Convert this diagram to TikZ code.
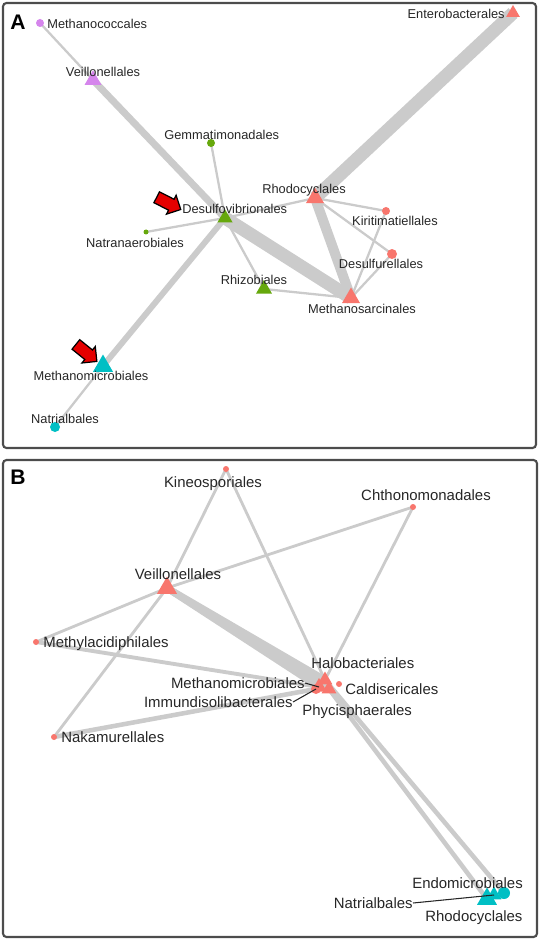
\documentclass[tikz,border=0pt]{standalone}
\usepackage{fontspec}
\setmainfont{Liberation Sans}
\usetikzlibrary{shapes.geometric,shapes.arrows}
\definecolor{vio}{HTML}{D585EC}
\definecolor{grn}{HTML}{66A80C}
\definecolor{cya}{HTML}{00BFC4}
\definecolor{sal}{HTML}{F8766D}
\definecolor{edg}{HTML}{CBCBCB}
\pgfdeclarelayer{bg}
\pgfsetlayers{bg,main}
\tikzset{
    tri/.style={regular polygon, regular polygon sides=3, inner sep=0pt, minimum size=#1},
    tri/.default=0.38cm,
    dot/.style={circle, inner sep=0pt, minimum size=#1},
    dot/.default=0.14cm,
    lab a/.style={inner sep=0pt, text=black!85, font=\fontsize{7.3}{8}\selectfont, text height=1.5ex, text depth=0.3ex},
    lab b/.style={inner sep=0pt, text=black!85, font=\fontsize{8.5}{10}\selectfont, text height=1.5ex, text depth=0.3ex},
    link/.style={draw=edg, line width=#1},
    link/.default=1.3pt,
    leader/.style={draw=black!85, line width=0.6pt},
    frame/.style={draw=black!70, line width=1.2pt, rounded corners=2pt},
    panel/.style={inner sep=0pt, font=\fontsize{12}{14}\selectfont\bfseries},
    pointer/.style={single arrow, draw=black, fill=red!90!black, line width=0.7pt, inner sep=0.11cm, minimum height=0.54cm, single arrow head extend=0.09cm},
}
\begin{document}
\begin{tikzpicture}[x=0.02cm, y=-0.02cm]
        \useasboundingbox (0, 0) rectangle (540, 942);
        %draw panel frames
        \draw[frame] (3, 3) rectangle (536, 448);
        \draw[frame] (3, 460) rectangle (537, 937);
        %label panels
        \node[panel] (pA) at (18, 22) {A};
        \node[panel] (pB) at (18, 477) {B};
        %panel A: nodes
        \node[dot=0.16cm, fill=vio] (mcocA) at (40, 23) {};
        \node[tri=0.39cm, fill=vio] (veilA) at (93, 80) {};
        \node[dot=0.16cm, fill=grn] (gemmA) at (211, 143) {};
        \node[tri=0.35cm, fill=grn] (desvA) at (225, 218) {};
        \node[dot=0.1cm, fill=grn] (natrnA) at (146, 232) {};
        \node[tri=0.37cm, fill=grn] (rhizA) at (264, 289) {};
        \node[tri=0.32cm, fill=sal] (entA) at (513, 13) {};
        \node[tri=0.42cm, fill=sal] (rhodA) at (315, 198) {};
        \node[dot=0.16cm, fill=sal] (kiriA) at (386, 211) {};
        \node[dot=0.2cm, fill=sal] (dsurA) at (392, 254) {};
        \node[tri=0.42cm, fill=sal] (msarA) at (351, 298) {};
        \node[tri=0.46cm, fill=cya] (mmicA) at (103, 366) {};
        \node[dot=0.2cm, fill=cya] (ntrlA) at (55, 427) {};
        %panel A: labels
        \node[lab a, anchor=west] (mcocA-t) at (47, 23) {Methanococcales};
        \node[lab a] (veilA-t) at (103, 71) {Veillonellales};
        \node[lab a, anchor=west] (gemmA-t) at (164, 134) {Gemmatimonadales};
        \node[lab a, anchor=west] (desvA-t) at (182, 208) {Desulfovibrionales};
        \node[lab a] (natrnA-t) at (135, 242) {Natranaerobiales};
        \node[lab a] (rhizA-t) at (254, 279) {Rhizobiales};
        \node[lab a, anchor=east] (entA-t) at (505, 13) {Enterobacterales};
        \node[lab a] (rhodA-t) at (304, 188) {Rhodocyclales};
        \node[lab a] (kiriA-t) at (395, 220) {Kiritimatiellales};
        \node[lab a] (dsurA-t) at (381, 263) {Desulfurellales};
        \node[lab a] (msarA-t) at (362, 308) {Methanosarcinales};
        \node[lab a] (mmicA-t) at (91, 375) {Methanomicrobiales};
        \node[lab a] (ntrlA-t) at (65, 418) {Natrialbales};
        %red pointers
        \node[pointer, rotate=-27] (ptr1) at (166, 202) {};
        \node[pointer, rotate=-39] (ptr2) at (84, 351) {};
        %panel A: edges
        \begin{pgfonlayer}{bg}
            \draw[link] (mcocA.center) -- (veilA.center);
            \draw[link=4pt] (veilA.center) -- (desvA.center);
            \draw[link] (gemmA.center) -- (desvA.center);
            \draw[link] (natrnA.center) -- (desvA.center);
            \draw[link=3.4pt] (desvA.center) -- (mmicA.center);
            \draw[link] (mmicA.center) -- (ntrlA.center);
            \draw[link] (desvA.center) -- (rhizA.center);
            \draw[link] (desvA.center) -- (rhodA.center);
            \draw[link=7.5pt] (desvA.center) -- (msarA.center);
            \draw[link] (rhizA.center) -- (msarA.center);
            \draw[link=7.5pt] (rhodA.center) -- (entA.center);
            \draw[link=5.7pt] (rhodA.center) -- (msarA.center);
            \draw[link] (rhodA.center) -- (kiriA.center);
            \draw[link] (rhodA.center) -- (dsurA.center);
            \draw[link] (kiriA.center) -- (msarA.center);
            \draw[link] (dsurA.center) -- (msarA.center);
        \end{pgfonlayer}
        %panel B: nodes
        \node[dot=0.12cm, fill=sal] (kineB) at (226, 469) {};
        \node[dot=0.12cm, fill=sal] (chthB) at (413, 507) {};
        \node[tri=0.46cm, fill=sal] (veilB) at (167, 588) {};
        \node[dot=0.12cm, fill=sal] (mlacB) at (36, 642) {};
        \node[dot=0.12cm, fill=sal] (nakaB) at (54, 737) {};
        \node[tri=0.34cm, fill=sal] (haloB) at (325, 680) {};
        \node[tri=0.36cm, fill=sal] (mmicB) at (319, 687) {};
        \node[dot=0.2cm, fill=sal] (immuB) at (316, 689) {};
        \node[tri=0.34cm, fill=sal] (phycB) at (329, 689) {};
        \node[dot=0.12cm, fill=sal] (caldB) at (339, 684) {};
        \node[dot=0.24cm, fill=cya] (endoB) at (504, 893) {};
        \node[tri=0.34cm, fill=cya] (ntrlB) at (494, 895) {};
        \node[tri=0.46cm, fill=cya] (rhodB) at (487, 899) {};
        %panel B: labels
        \node[lab b] (kineB-t) at (213, 482) {Kineosporiales};
        \node[lab b] (chthB-t) at (426, 495) {Chthonomonadales};
        \node[lab b] (veilB-t) at (178, 574) {Veillonellales};
        \node[lab b, anchor=west] (mlacB-t) at (43, 642) {Methylacidiphilales};
        \node[lab b, anchor=west] (nakaB-t) at (61, 737) {Nakamurellales};
        \node[lab b, anchor=west] (haloB-t) at (311, 663) {Halobacteriales};
        \node[lab b, anchor=east] (mmicB-t) at (305, 683) {Methanomicrobiales};
        \node[lab b, anchor=east] (immuB-t) at (293, 702) {Immundisolibacterales};
        \node[lab b, anchor=west] (caldB-t) at (345, 689) {Caldisericales};
        \node[lab b, anchor=west] (phycB-t) at (302, 710) {Phycisphaerales};
        \node[lab b, anchor=west] (endoB-t) at (412, 883) {Endomicrobiales};
        \node[lab b, anchor=east] (ntrlB-t) at (413, 903) {Natrialbales};
        \node[lab b, anchor=west] (rhodB-t) at (425, 916) {Rhodocyclales};
        %leader lines
        \draw[leader] (mmicB-t.east) -- (mmicB.center);
        \draw[leader] (immuB-t.east) -- (immuB.center);
        \draw[leader] (ntrlB-t.east) -- (ntrlB.center);
        %panel B: edges
        \begin{pgfonlayer}{bg}
            \draw[link=1.6pt] (kineB.center) -- (veilB.center);
            \draw[link=1.6pt] (kineB.center) -- (haloB.center);
            \draw[link=1.6pt] (chthB.center) -- (veilB.center);
            \draw[link=1.6pt] (chthB.center) -- (haloB.center);
            \draw[link=4pt] (veilB.center) -- (haloB.center);
            \draw[link=4pt] (veilB.center) -- (mmicB.center);
            \draw[link=4pt] (veilB.center) -- (phycB.center);
            \draw[link=1.6pt] (veilB.center) -- (mlacB.center);
            \draw[link=1.6pt] (veilB.center) -- (nakaB.center);
            \draw[link=2.2pt] (mlacB.center) -- (mmicB.center);
            \draw[link=2.6pt] (nakaB.center) -- (immuB.center);
            \draw[link=2.6pt] (phycB.center) -- (rhodB.center);
            \draw[link=2.6pt] (haloB.center) -- (endoB.center);
        \end{pgfonlayer}
    \end{tikzpicture}
\end{document}
